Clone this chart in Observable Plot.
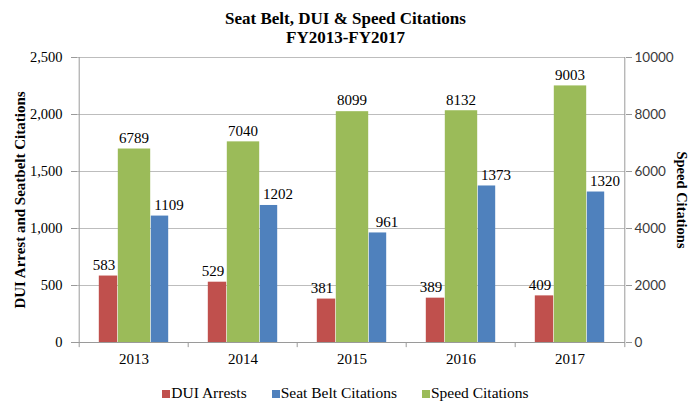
<!DOCTYPE html>
<html>
<head>
<meta charset="utf-8">
<script src="https://cdn.jsdelivr.net/npm/d3@7"></script>
<script src="https://cdn.jsdelivr.net/npm/@observablehq/plot@0.6"></script>
<style>
  body { margin: 0; background: #fff; font-family: "Liberation Serif", serif; }
  #wrap { width: 691px; height: 403px; position: relative; overflow: hidden; font-family: "Liberation Serif", serif; }
  #title { text-align: center; font-weight: bold; font-size: 17px; line-height: 19px; padding-top: 9px; height: 44px; box-sizing: border-box; width: 691px; letter-spacing: 0px; font-family: "Liberation Serif", serif; }
  #legend { position: absolute; top: 384px; left: 0; width: 691px; display: flex; justify-content: center; gap: 25px; font-size: 15.5px; font-family: "Liberation Serif", serif; line-height: 18px; }
  #legend span.sw { display: inline-block; width: 8px; height: 8px; margin-right: 1px; vertical-align: 0px; }
</style>
</head>
<body>
<div id="wrap">
  <div id="title">Seat Belt, DUI &amp; Speed Citations<br>FY2013-FY2017</div>
  <div id="chart"></div>
  <div id="legend"></div>
</div>
<script>
const years = ["2013", "2014", "2015", "2016", "2017"];
const duiArrests = [583, 529, 381, 389, 409];
const seatBelt = [1109, 1202, 961, 1373, 1320];
const speed = [6789, 7040, 8099, 8132, 9003];
const leftTicks = [0, 500, 1000, 1500, 2000, 2500];
const rightTicks = [0, 2000, 4000, 6000, 8000, 10000];
const seriesNames = ["DUI Arrests", "Seat Belt Citations", "Speed Citations"];
const colors = { "DUI Arrests": "#C0504D", "Seat Belt Citations": "#4F81BD", "Speed Citations": "#9BBB59" };

const ratio = 10000 / 2500; // right axis / left axis
const duiData = years.map((y, i) => ({ year: y, value: duiArrests[i] }));
const beltData = years.map((y, i) => ({ year: y, value: seatBelt[i] }));
const speedData = years.map((y, i) => ({ year: y, value: speed[i], scaled: speed[i] / ratio }));

const W = 691, mL = 77, mR = 66;
const half = (W - mL - mR) / years.length / 2;

const serif = "Liberation Serif";
const chart = Plot.plot({
  width: W,
  height: 320,
  marginLeft: mL,
  marginRight: mR,
  marginTop: 13,
  marginBottom: 22,
  style: { fontFamily: serif, fontSize: "15px", background: "white", overflow: "visible", color: "black" },
  x: { type: "band", domain: years, padding: 0 },
  y: { domain: [0, 2500] },
  marks: [
    Plot.gridY(leftTicks, { stroke: "#bdbdbd", strokeOpacity: 1 }),
    Plot.ruleX([years[0]], { dx: -half, y1: 0, y2: 2500, stroke: "#9a9a9a" }),
    Plot.ruleX([years[years.length - 1]], { dx: half, y1: 0, y2: 2500, stroke: "#9a9a9a" }),
    Plot.ruleX(years, { dx: -half, y1: 0, y2: -45, stroke: "#9a9a9a" }),
    Plot.ruleX([years[years.length - 1]], { dx: half, y1: 0, y2: -45, stroke: "#9a9a9a" }),
    Plot.barY(duiData, { x: "year", y: "value", fill: colors["DUI Arrests"], insetLeft: half - 35, insetRight: half + 16 }),
    Plot.barY(speedData, { x: "year", y: "scaled", fill: colors["Speed Citations"], insetLeft: half - 16, insetRight: half - 17 }),
    Plot.barY(beltData, { x: "year", y: "value", fill: colors["Seat Belt Citations"], insetLeft: half + 17, insetRight: half - 35 }),
    Plot.ruleY([0], { stroke: "#9a9a9a" }),
    Plot.text(duiData, { x: "year", y: "value", text: d => String(d.value), dx: -30, dy: -11, fontSize: 15, fontFamily: serif, fill: "black" }),
    Plot.text(speedData, { x: "year", y: "scaled", text: d => String(d.value), dx: 0, dy: -11, fontSize: 15, fontFamily: serif, fill: "black" }),
    Plot.text(beltData, { x: "year", y: "value", text: d => String(d.value), dx: 35, dy: -11, fontSize: 15, fontFamily: serif, fill: "black" }),
    Plot.axisY(leftTicks, { anchor: "left", tickSize: 6, tickPadding: 9, stroke: "#9a9a9a", tickFormat: d3.format(","), label: null, fontSize: 14.5, fontFamily: serif, fill: "black" }),
    Plot.axisY(leftTicks, { anchor: "right", tickSize: 6, tickPadding: 3, stroke: "#9a9a9a", tickFormat: (d, i) => String(rightTicks[i]), label: null, fontFamily: "Lato", fontSize: 13.5, fill: "#3a3a3a" }),
    Plot.axisX({ tickSize: 0, tickPadding: 11, label: null, fontSize: 15, fontFamily: serif, fill: "black" }),
    Plot.text(["DUI Arrest and Seatbelt Citations"], { frameAnchor: "left", textAnchor: "middle", dx: -57, rotate: -90, fontWeight: "bold", fontSize: 15, fontFamily: serif, fill: "black" }),
    Plot.text(["Speed Citations"], { frameAnchor: "right", textAnchor: "middle", dx: 56, rotate: 90, fontWeight: "bold", fontSize: 14.5, fontFamily: serif, fill: "black" })
  ]
});
document.getElementById("chart").appendChild(chart);

const legend = document.getElementById("legend");
for (const name of seriesNames) {
  const item = document.createElement("div");
  const sw = document.createElement("span");
  sw.className = "sw";
  sw.style.background = colors[name];
  item.appendChild(sw);
  item.appendChild(document.createTextNode(name));
  legend.appendChild(item);
}
</script>
</body>
</html>
